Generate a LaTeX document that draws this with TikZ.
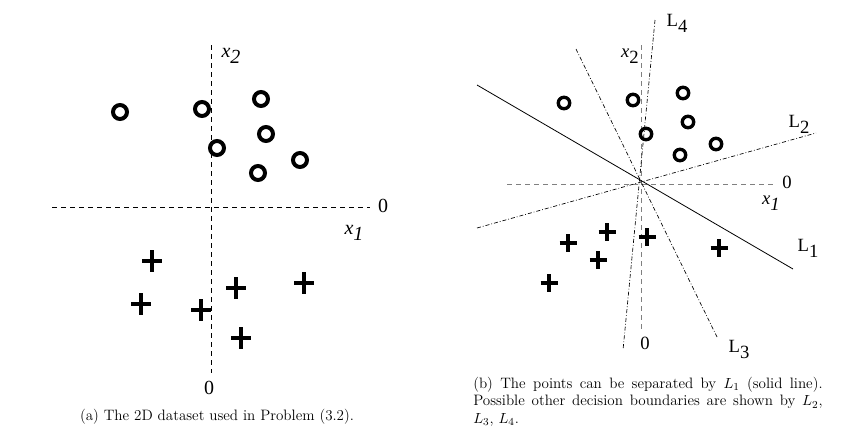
\documentclass[tikz,border=0pt]{standalone}
\usepackage{fontspec}
\newfontfamily\figfont{Liberation Serif}
\begin{document}
\begin{tikzpicture}[x=0.75pt,y=0.75pt,yscale=-1,xscale=1]
\tikzset{
  axisl/.style={line width=0.6pt, dash pattern=on 3.75pt off 3pt},
  axisr/.style={line width=0.6pt, gray, dash pattern=on 3.75pt off 3pt},
  bound/.style={line width=0.5pt, dash pattern=on 3pt off 1.5pt on 0.6pt off 1.5pt},
  ringl/.style={line width=3pt},
  ringr/.style={line width=2.5pt},
  lbl/.style={font=\figfont\fontsize{15}{17}\selectfont, inner sep=0pt},
  lblr/.style={font=\figfont\fontsize{14}{16}\selectfont, inner sep=0pt},
  capt/.style={font=\fontsize{11.3}{13}\selectfont, inner sep=0pt}
}
\useasboundingbox (0,0) rectangle (855,443);

% (a) the dataset
\coordinate (a-top) at (211, 45);
\coordinate (a-bot) at (211, 373);
\coordinate (a-left) at (52, 207);
\coordinate (a-right) at (370, 207);
\draw [axisl] (a-top) -- (a-bot);
\draw [axisl] (a-left) -- (a-right);
\node [lbl] (a-zero1) at (383, 206) {0};
\node [lbl] (a-zero2) at (209, 388) {0};
\node [lbl] (a-x1) at (354, 233) {\textit{x}\raisebox{-0.7ex}{\textit{1}}};
\node [lbl] (a-x2) at (231, 56) {\textit{x}\raisebox{-0.7ex}{\textit{2}}};

\foreach \px/\py in {120/112, 202/109, 261/99, 266/134, 217/148, 300/160, 258/173}
  \draw [ringl] (\px,\py) circle [radius=5.25pt];
\foreach \px/\py in {152/261, 141/304, 201/310, 236/288, 304/283, 241/338}
  \draw [ringl, line width=3.6pt] (\px-10,\py) -- (\px+10,\py) (\px,\py-11) -- (\px,\py+11);

\node [capt, anchor=base] (a-cap) at (217, 420) {(a) The 2D dataset used in Problem (3.2).};

% (b) separating lines
\coordinate (b-top) at (641, 45);
\coordinate (b-bot) at (641, 333);
\coordinate (b-left) at (507, 184);
\coordinate (b-right) at (775, 184);
\draw [axisr] (b-top) -- (b-bot);
\draw [axisr] (b-left) -- (b-right);
\node [lblr] (b-zero1) at (787, 182) {0};
\node [lblr] (b-zero2) at (645, 343) {0};
\node [lblr] (b-x1) at (771, 203) {\textit{x}\raisebox{-0.7ex}{\textit{1}}};
\node [lblr] (b-x2) at (630, 56) {\textit{x}\raisebox{-0.7ex}{2}};

\coordinate (l1-a) at (477, 85);
\coordinate (l1-b) at (793, 269);
\coordinate (l2-a) at (477, 228);
\coordinate (l2-b) at (816, 133);
\coordinate (l3-a) at (576, 49);
\coordinate (l3-b) at (717, 337);
\coordinate (l4-a) at (655, 20);
\coordinate (l4-b) at (623, 350);
\draw [line width=0.6pt] (l1-a) -- (l1-b);
\draw [bound] (l2-a) -- (l2-b);
\draw [bound] (l3-a) -- (l3-b);
\draw [bound] (l4-a) -- (l4-b);
\node [lblr] (L1) at (808, 248) {L\raisebox{-0.7ex}{1}};
\node [lblr] (L2) at (799, 124) {L\raisebox{-0.7ex}{2}};
\node [lblr] (L3) at (739, 349) {L\raisebox{-0.7ex}{3}};
\node [lblr] (L4) at (677, 23) {L\raisebox{-0.7ex}{4}};

\foreach \px/\py in {564/103, 633/100, 683/93, 688/122, 646/134, 716/144, 680/155}
  \draw [ringr] (\px,\py) circle [radius=4.3pt];
\foreach \px/\py in {568/243, 607/232, 647/237, 598/260, 549/283, 719/248}
  \draw [ringr, line width=3pt] (\px-8.5,\py) -- (\px+8.5,\py) (\px,\py-9) -- (\px,\py+9);

\node [capt, anchor=north west, text width=262pt, align=justify] (b-cap) at (473, 377)
  {(b) The points can be separated by $L_1$ (solid line).\linebreak Possible other decision boundaries are shown by $L_2$,\linebreak $L_3$, $L_4$.};
\end{tikzpicture}
\end{document}
